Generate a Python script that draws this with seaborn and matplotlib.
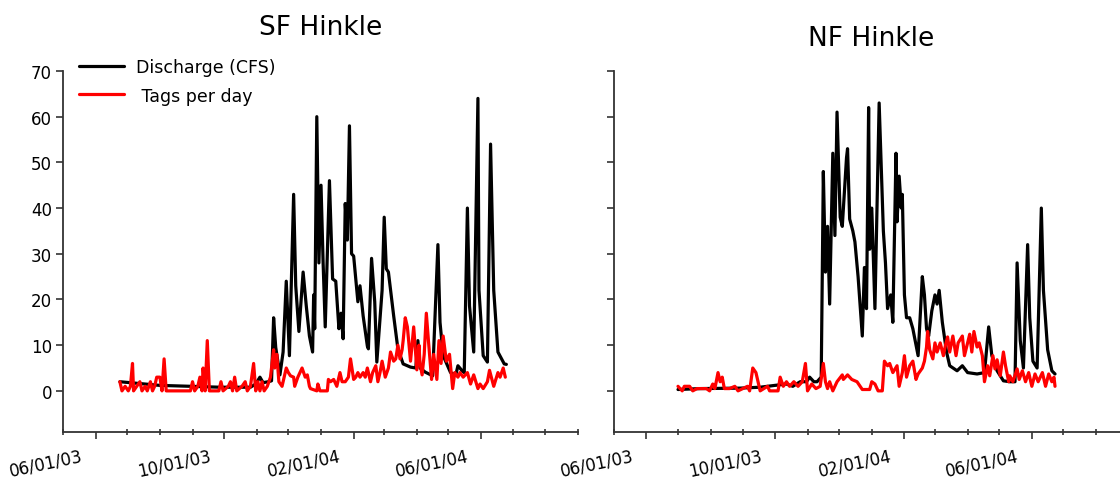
import matplotlib.pyplot as plt
import matplotlib.dates as mdates
from matplotlib.transforms import ScaledTranslation
import seaborn as sns
import pandas as pd

# Days counted from 05/01/03
sf_q_days = [54, 73, 92, 121, 149, 178, 183, 187, 190, 195, 198, 200, 202, 206, 209, 212, 215, 219, 221, 224,
             228, 231, 234, 237, 238, 239, 241, 243, 245, 247, 249, 253, 256, 259, 262, 264, 266, 268, 270, 272,
             274, 276, 280, 282, 285, 289, 290, 293, 296, 298, 303, 305, 307, 309, 314, 318, 323, 330, 335, 337,
             339, 344, 351, 356, 358, 361, 368, 373, 375, 379, 381, 384, 386, 390, 394, 395, 399, 403, 406, 409,
             413, 419, 421]
sf_q_vals = [2.0, 1.6, 1.2, 1.0, 0.8, 0.8, 1.5, 3.0, 1.8, 2.0, 2.2, 16, 9.5, 3.5, 8.5, 24, 7.7, 43, 23, 13,
             26, 18.6, 12, 8.5, 21, 13.6, 60, 28, 45, 28, 14, 46, 24.5, 24, 13.6, 17, 11.4, 41, 33, 58,
             30, 29.5, 19.5, 23, 16.4, 9.8, 9.2, 29, 19.5, 6.3, 22, 38, 26.7, 26, 16.4, 9.2, 5.9, 5.2, 5, 11,
             5, 4.1, 3.3, 32, 15, 7.7, 4, 3.5, 5.5, 4.4, 4, 40, 18.6, 8.5, 64, 22, 7.7, 6.3, 54, 22,
             8.5, 5.9, 5.8]

sf_tag_days = [54, 56, 59, 62, 64, 66, 67, 70, 73, 75, 78, 80, 83, 85, 87, 89, 92, 94, 96, 98,
               121, 123, 125, 128, 130, 132, 133, 135, 137, 139, 148, 150, 152, 157, 159, 161, 163, 165, 170, 173,
               175, 178, 181, 183, 185, 187, 189, 191, 194, 197, 200, 201, 203, 205, 208, 212, 214, 216, 219, 220,
               223, 227, 230, 232, 234, 235, 241, 242, 244, 251, 252, 254, 257, 260, 263, 265, 268, 271, 273, 276,
               278, 280, 282, 285, 287, 289, 292, 294, 297, 299, 301, 303, 306, 309, 311, 314, 316, 318, 320, 322,
               323, 325, 327, 330, 333, 336, 338, 339, 341, 343, 345, 347, 350, 352, 355, 357, 359, 361, 364, 367,
               370, 372, 375, 377, 380, 384, 387, 390, 394, 396, 399, 403, 405, 409, 413, 415, 418, 420]
sf_tag_vals = [2, 0, 1, 0, 1, 6, 0, 1, 2, 0, 1, 0, 2, 0, 1, 3, 3, 0, 7, 0,
               0, 2, 0, 1, 3, 0, 5, 0, 11, 0, 0, 2, 0, 1, 2, 0, 3, 0, 1, 2,
               0, 1, 6, 0, 2, 0, 2, 0, 1, 3, 9, 5, 8, 2, 1, 5, 4, 3.3, 3, 1,
               3, 5, 3, 3.5, 1, 0.5, 0, 1.5, 0, 0, 2.5, 2, 2.5, 1, 4, 2, 2, 3, 7, 2.5,
               3, 4, 3, 4, 3, 5, 2, 4, 5.5, 2, 4, 6.5, 3, 5, 8.5, 6.5, 7, 10, 7, 9,
               11, 16, 14, 6.5, 14, 4.6, 10, 6, 3.5, 8, 17, 11, 2.5, 8, 2.5, 11, 6, 12, 6.5, 8,
               0.5, 4, 3, 4, 3, 4, 1.5, 3.5, 0.5, 1.5, 0.5, 2, 4.5, 1, 4, 3, 5, 3]

nf_q_days = [61, 82, 120, 139, 153, 164, 170, 177, 183, 186, 190, 193, 197, 199, 201, 203, 205, 208, 210, 212,
             215, 217, 221, 222, 224, 227, 229, 232, 236, 238, 240, 242, 243, 245, 248, 252, 256, 258, 260, 263,
             265, 268, 269, 271, 273, 274, 276, 278, 281, 284, 289, 293, 295, 297, 299, 302, 305, 307, 309, 312,
             316, 319, 326, 331, 336, 345, 352, 356, 359, 364, 370, 376, 381, 383, 386, 389, 393, 395, 398, 402,
             406, 408, 412, 416, 419]
nf_q_vals = [0.3, 0.5, 0.6, 0.8, 1.2, 1.5, 1, 2, 2, 3, 2, 2, 3, 48, 26, 36, 19, 52, 34, 61,
             38, 36, 51, 53, 37.6, 35, 32.6, 25, 12, 27, 18, 62, 31, 40, 18, 63, 35, 28, 18, 21,
             15, 52, 37, 47, 40, 43, 21, 16, 16, 13.6, 7.7, 25, 21, 13.6, 12, 17.5, 21, 19, 22, 15,
             8.5, 5.5, 4.4, 5.5, 4, 3.7, 4, 14, 7.7, 4.4, 2.2, 2, 2, 28, 11, 5, 32, 16, 6.5, 5,
             40, 22, 9, 4.4, 3.7]

nf_tag_days = [61, 65, 67, 72, 75, 79, 88, 91, 94, 96, 99, 101, 103, 105, 110, 115, 118, 127, 129, 132,
               135, 137, 139, 146, 148, 156, 158, 161, 164, 167, 171, 175, 179, 182, 184, 188, 192, 196, 199, 201,
               203, 205, 208, 212, 217, 218, 222, 226, 231, 236, 243, 245, 248, 251, 255, 257, 260, 262, 265, 269,
               271, 274, 276, 278, 281, 284, 287, 289, 293, 295, 297, 298, 300, 303, 305, 307, 310, 313, 315, 317,
               319, 322, 325, 327, 331, 333, 336, 338, 340, 342, 345, 347, 350, 352, 355, 357, 360, 362, 364, 367,
               370, 372, 375, 376, 379, 383, 385, 388, 391, 394, 397, 400, 403, 407, 410, 413, 416, 418, 419]
nf_tag_vals = [1, 0, 1, 1, 0, 0.5, 0.5, 0, 1.5, 0.5, 4, 2, 3, 0.5, 0.5, 1, 0, 1, 0, 5,
               4, 2, 0, 1, 0, 0, 3, 1, 2, 1, 2, 1, 2, 6, 0, 1.5, 0.5, 1, 6, 2,
               0.5, 2, 0, 2, 3.5, 2.5, 3.5, 2.5, 2, 0.3, 0.3, 2, 1.5, 0, 0, 6.5, 5.5, 6, 4, 5.5,
               1, 4, 7.7, 3, 5.5, 6.5, 2.5, 3.7, 5, 6.5, 9.6, 13, 9, 7, 10.5, 8.5, 10.5, 7.7, 10, 11.8,
               8.5, 12, 7.7, 10.5, 12, 7.7, 10.5, 12.4, 8.5, 13, 9.6, 10.5, 7.7, 2, 5.5, 3.3, 7.7, 4.8, 6.8, 3.3,
               8.5, 5.5, 2, 3.3, 2, 4.8, 2.5, 4.4, 2, 4, 1, 3.7, 2, 4, 1, 3.7, 2, 3, 1]

titles = ["SF Hinkle", "NF Hinkle"]
start = pd.Timestamp("2003-05-01")


def to_dates(days):
    return start + pd.to_timedelta(days, unit="D")


sns.set_style("ticks")
plt.rcParams["font.family"] = ["DejaVu Sans"]
plt.rcParams["axes.edgecolor"] = "#333333"
plt.rcParams["text.color"] = "black"
plt.rcParams["xtick.labelcolor"] = "black"
plt.rcParams["ytick.labelcolor"] = "black"

fig = plt.figure(figsize=(11.2, 4.81), dpi=100)
ax1 = fig.add_axes([0.05625, 0.0998, 0.4598, 0.7505])
ax2 = fig.add_axes([0.548, 0.0998, 0.4598, 0.7505])

panels = [(ax1, sf_q_days, sf_q_vals, sf_tag_days, sf_tag_vals),
          (ax2, nf_q_days, nf_q_vals, nf_tag_days, nf_tag_vals)]

for ax, qd, qv, td, tv in panels:
    sns.lineplot(x=to_dates(qd), y=qv, ax=ax, color="black", lw=2.3, estimator=None,
                 label="Discharge (CFS)", legend=False)
    sns.lineplot(x=to_dates(td), y=tv, ax=ax, color="red", lw=2.3, estimator=None,
                 label=" Tags per day", legend=False)
    ax.set_xlim(pd.Timestamp("2003-05-01"), pd.Timestamp("2004-09-01"))
    ax.set_ylim(-9, 70)
    ax.set_yticks(range(0, 71, 10))
    ax.xaxis.set_major_locator(mdates.MonthLocator(bymonth=[2, 6, 10]))
    ax.xaxis.set_major_formatter(mdates.DateFormatter("%m/%d/%y"))
    ax.xaxis.set_minor_locator(mdates.MonthLocator())
    ax.set_xlabel("")
    ax.set_ylabel("")
    for side in ["top", "right"]:
        ax.spines[side].set_visible(False)
    for side in ["left", "bottom"]:
        ax.spines[side].set_linewidth(1.3)
    ax.tick_params(axis="both", which="major", labelsize=12, length=5, width=1.2, pad=3,
                   color="#333333", labelcolor="black")
    ax.tick_params(axis="x", which="minor", length=5, width=1.2, direction="inout", color="#333333")
    offset = ScaledTranslation(-15 / 100, -3 / 100, fig.dpi_scale_trans)
    for lab in ax.get_xticklabels():
        lab.set_rotation(12)
        lab.set_ha("right")
        lab.set_va("top")
        lab.set_rotation_mode("anchor")
        lab.set_transform(lab.get_transform() + offset)

ax2.tick_params(axis="y", labelleft=False)

ax1.set_title(titles[0], fontsize=19, pad=27, color="black")
ax2.set_title(titles[1], fontsize=19, pad=19, color="black")

ax1.legend(loc="upper left", bbox_to_anchor=(0.0, 1.08), frameon=False, fontsize=12.5,
           handlelength=2.6, labelspacing=0.62, handletextpad=0.7)

fig.savefig("out.png", dpi=100)
